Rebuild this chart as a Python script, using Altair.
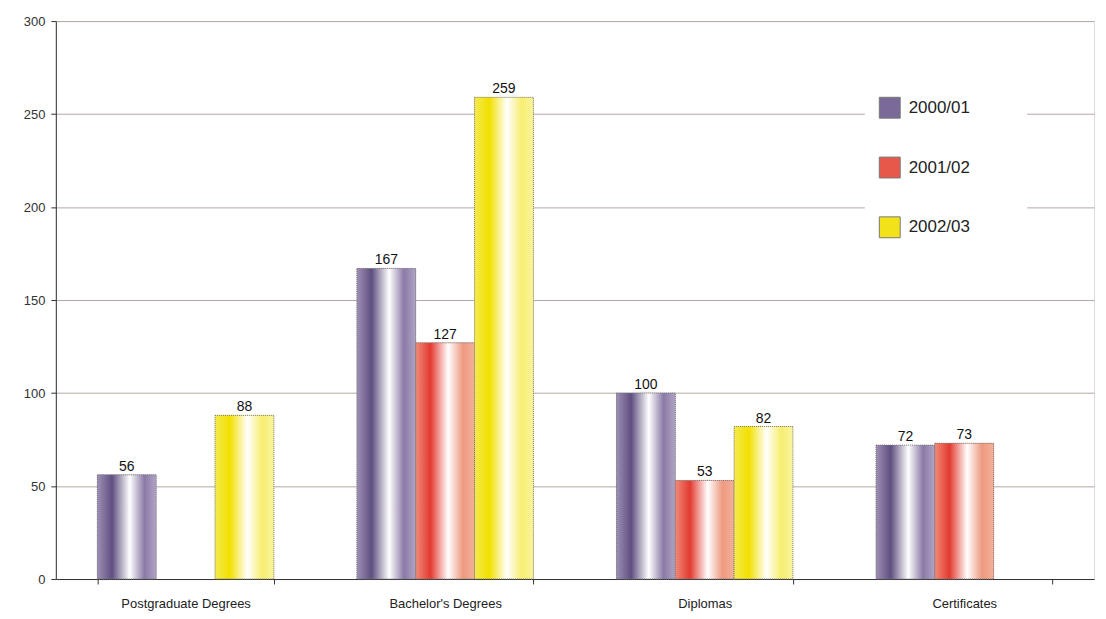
import altair as alt
import pandas as pd

categories = ["Postgraduate Degrees", "Bachelor's Degrees", "Diplomas", "Certificates"]
series = ["2000/01", "2001/02", "2002/03"]
v_2000_01 = [56, 167, 100, 72]
v_2001_02 = [None, 127, 53, 73]
v_2002_03 = [88, 259, 82, None]
y_ticks = [0, 50, 100, 150, 200, 250, 300]

solid = ["#7a6a9a", "#e8584a", "#f2e21a"]
grad_stops = {
    "2000/01": ["#9d8fb5", "#5f4f80", "#ffffff", "#8a7aa6", "#b0a4c4"],
    "2001/02": ["#f08a78", "#e23a30", "#ffffff", "#ee9a80", "#f2b09a"],
    "2002/03": ["#f4ea50", "#f2e000", "#ffffff", "#f6ee70", "#faf4a0"],
}
offsets = [0.0, 0.25, 0.55, 0.8, 1.0]

rows = []
for s, vals in zip(series, [v_2000_01, v_2001_02, v_2002_03]):
    for c, v in zip(categories, vals):
        if v is not None:
            rows.append({"category": c, "series": s, "value": v})
df = pd.DataFrame(rows)

FONT = "Liberation Sans"

x = alt.X("category:N", sort=categories, title=None,
          scale=alt.Scale(paddingInner=0.32, paddingOuter=0.16),
          axis=alt.Axis(labelAngle=0, tickBand="extent", labelFontSize=13,
                        labelColor="#222", labelPadding=14, tickSize=5,
                        tickColor="#333", domainColor="#333", grid=False,
                        labelFont=FONT))
xo = alt.XOffset("series:N", sort=series,
                 scale=alt.Scale(domain=series, paddingInner=0, paddingOuter=0))
y = alt.Y("value:Q", title=None,
          scale=alt.Scale(domain=[0, 300], nice=False),
          axis=alt.Axis(values=y_ticks, grid=True, gridColor="#b4a8a4",
                        domainColor="#333", tickColor="#333", tickSize=5,
                        labelFontSize=13, labelColor="#333", labelPadding=6,
                        labelFont=FONT))

base = alt.Chart(df).encode(x=x, xOffset=xo, y=y)

legend_layer = base.mark_bar().encode(
    color=alt.Color("series:N", sort=series,
                    scale=alt.Scale(domain=series, range=solid),
                    legend=alt.Legend(title=None, orient="none", legendX=812,
                                      legendY=62, fillColor="white",
                                      padding=14, symbolType="square",
                                      symbolSize=440, symbolStrokeColor="#777",
                                      symbolStrokeWidth=1, labelFontSize=17,
                                      labelFont=FONT, labelColor="#222",
                                      rowPadding=34, labelOffset=8,
                                      labelLimit=200))
)

layers = [legend_layer]
for i, s in enumerate(series):
    g = alt.Gradient(
        gradient="linear", x1=0, x2=1, y1=0, y2=0,
        stops=[alt.GradientStop(color=c, offset=o)
               for c, o in zip(grad_stops[s], offsets)])
    layers.append(
        base.transform_filter(alt.datum.series == s)
        .mark_bar(fill=g, stroke="#777", strokeDash=[1, 1], strokeWidth=1)
    )

text = base.mark_text(dy=-8, fontSize=14, font=FONT, color="#111").encode(
    text="value:Q")
layers.append(text)

# white strip to the right of the legend labels, as in the reference box
cover = alt.Chart(pd.DataFrame({"a": [0]})).mark_rect(color="white").encode(
    x=alt.value(920), x2=alt.value(975), y=alt.value(62), y2=alt.value(215))
layers.insert(1, cover)

chart = alt.layer(*layers).properties(
    width=1042, height=560,
    autosize=alt.AutoSizeParams(type="none"),
    padding={"left": 48, "top": 12, "right": 4, "bottom": 35},
).configure_view(stroke=None).configure(background="white")

chart.save("out.html", embed_options={"renderer": "svg", "actions": False})
